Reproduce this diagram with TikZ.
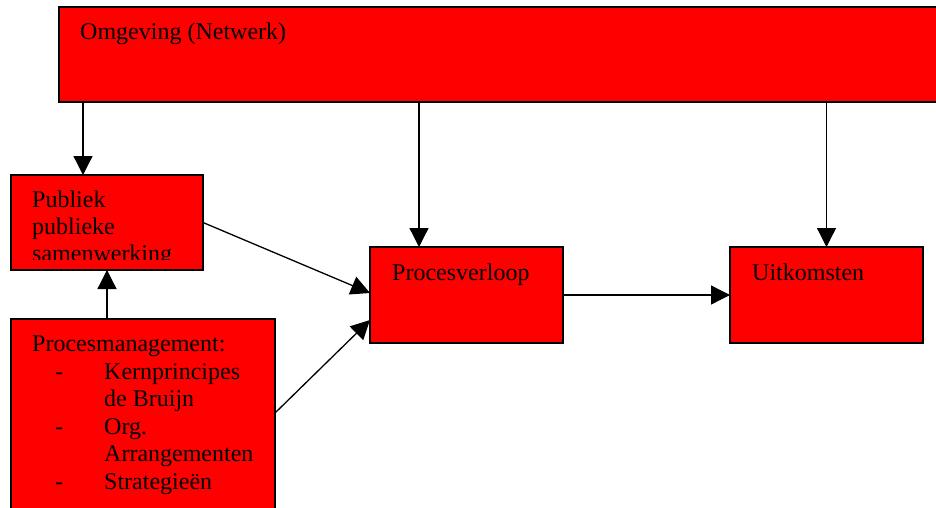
\documentclass[tikz,border=0pt]{standalone}
\usepackage{fontspec}
\setmainfont{Liberation Serif}
\usetikzlibrary{arrows.meta}
\begin{document}
\begin{tikzpicture}[x=1pt,y=-1pt,
  box/.style={draw=black, line width=1.4pt, fill=red, outer sep=0pt, inner sep=0pt, anchor=north west},
  lbl/.style={anchor=base west, inner sep=0pt, font=\fontsize{24}{27.5}\selectfont},
  arr/.style={line width=1.3pt, -{Triangle[length=19pt,width=19pt]}}]
\clip (0,0) rectangle (936,508);
\fill[white] (0,0) rectangle (936,508);
% boxes
\node[box, minimum width=900pt, minimum height=95pt] (omg) at (59,7) {};
\node[box, minimum width=192pt, minimum height=95pt] (pub) at (11,175) {};
\node[box, minimum width=264pt, minimum height=210pt] (pm) at (11,319) {};
\node[box, minimum width=193pt, minimum height=96pt] (pv) at (370,247) {};
\node[box, minimum width=193pt, minimum height=96pt] (uk) at (730,247) {};
% texts
\node[lbl] (tomg) at (80,40) {Omgeving (Netwerk)};
\begin{scope}
\clip (11,175) rectangle (203,259.5);
\node[lbl] (tpub1) at (32,207.5) {Publiek};
\node[lbl] (tpub2) at (32,234.5) {publieke};
\node[lbl] (tpub3) at (32,261.5) {samenwerking};
\end{scope}
\node[lbl] (tpm) at (32,351.5) {Procesmanagement:};
\node[lbl] (d1) at (55,379) {-};
\node[lbl] (t1) at (104,379) {Kernprincipes};
\node[lbl] (t1b) at (104,406.5) {de Bruijn};
\node[lbl] (d2) at (55,434) {-};
\node[lbl] (t2) at (104,434) {Org.};
\node[lbl] (t2b) at (104,461.5) {Arrangementen};
\node[lbl] (d3) at (55,489) {-};
\node[lbl] (t3) at (104,489) {Strategieën};
\node[lbl] (tpv) at (392,280.5) {Procesverloop};
\node[lbl] (tuk) at (752,280.5) {Uitkomsten};
% connectors
\draw[arr] ([xshift=72pt]pub.north west |- omg.south) -- ([xshift=72pt]pub.north west);
\draw[arr] ([xshift=-47.5pt]pv.north |- omg.south) -- ([xshift=-47.5pt]pv.north);
\draw[arr] (uk.north |- omg.south) -- (uk.north);
\draw[arr] (pub.south |- pm.north) -- (pub.south);
\draw[arr] (pub.east) -- ([yshift=2pt]pv.west);
\draw[arr] ([yshift=-94pt]pm.north east) -- ([yshift=-25pt]pv.west);
\draw[arr] (pv.east) -- (uk.west);
\end{tikzpicture}
\end{document}
